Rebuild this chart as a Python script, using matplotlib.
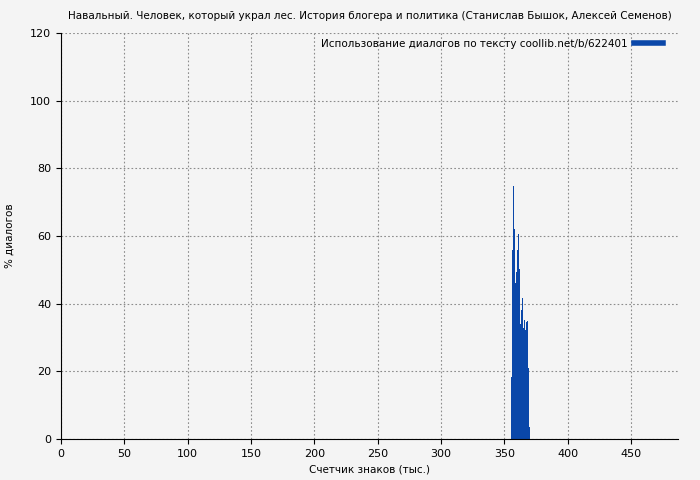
import matplotlib
matplotlib.use("Agg")
import matplotlib.pyplot as plt

# Dialogue share per chunk of text (thousand characters)
start = 355.3
step = 0.8
pct = [18.4, 55.9, 74.8, 62.0, 46.0, 49.5, 55.9, 60.6, 50.2, 34.0,
       38.1, 41.6, 32.7, 35.2, 32.2, 34.7, 34.9, 20.9, 3.4]
xs = [start + i * step for i in range(len(pct))]

title = "Навальный. Человек, который украл лес. История блогера и политика (Станислав Бышок, Алексей Семенов)"
label = "Использование диалогов по тексту coollib.net/b/622401"

bg = "#f4f4f4"
color = "#0a47a9"

fig = plt.figure(figsize=(7, 4.8), dpi=100, facecolor=bg)
ax = fig.add_axes([61 / 700, 41 / 480, 617 / 700, 406 / 480])
ax.set_facecolor(bg)

ax.bar(xs, pct, width=step, align="edge", color=color, linewidth=0, label=label)

ax.set_xlim(0, 487)
ax.set_ylim(0, 120)
ax.set_xticks(range(0, 451, 50))
ax.set_yticks(range(0, 121, 20))
ax.tick_params(labelsize=8)
ax.grid(True, color="#8c8c8c", linestyle=(0, (1.5, 2)), linewidth=0.8)
ax.set_axisbelow(True)
for s in ["top", "right"]:
    ax.spines[s].set_visible(False)

ax.set_xlabel("Счетчик знаков (тыс.)", fontsize=7.5)
ax.set_ylabel("% диалогов", fontsize=7.5, labelpad=11)
ax.set_title(title, fontsize=7.5, pad=10)

handle = plt.Line2D([], [], color=color, linewidth=4)
ax.legend([handle], [label], loc="upper right", bbox_to_anchor=(0.979, 0.99),
          frameon=False, fontsize=7.5, handlelength=2.8, borderaxespad=0,
          borderpad=0.2, markerfirst=False, handletextpad=0.6)

fig.savefig("out.png", dpi=100, facecolor=bg)
